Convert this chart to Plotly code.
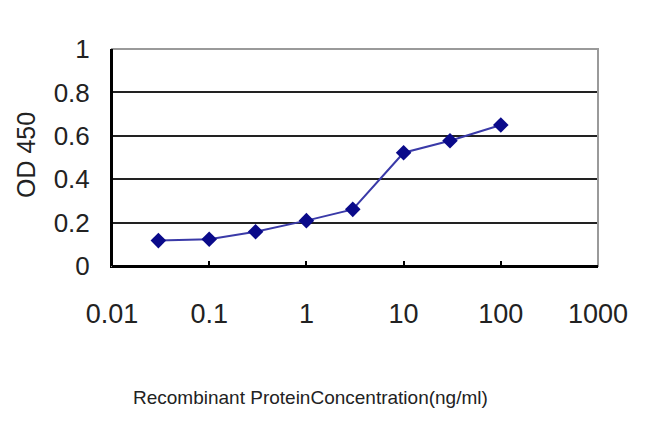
import plotly.graph_objects as go

conc = [0.03, 0.1, 0.3, 1, 3, 10, 30, 100]
od450 = [0.117, 0.123, 0.158, 0.209, 0.261, 0.522, 0.577, 0.65]
x_ticks = [0.01, 0.1, 1, 10, 100, 1000]
x_tick_labels = ["0.01", "0.1", "1", "10", "100", "1000"]
y_ticks = [0, 0.2, 0.4, 0.6, 0.8, 1]
y_tick_labels = ["0", "0.2", "0.4", "0.6", "0.8", "1"]

FONT = "Liberation Sans, Arial"
OFF = 8  # page body margin in the browser
W, H = 650 - OFF, 433 - OFF
L, R, T, B = 112 - OFF, 52, 49 - OFF, 167

fig = go.Figure()
fig.add_trace(go.Scatter(
    x=conc, y=od450, mode="lines+markers",
    line=dict(color="#3a3aa8", width=2),
    marker=dict(symbol="diamond", size=12, color="#0a0a8a"),
    showlegend=False,
))

fig.update_layout(
    width=W, height=H,
    margin=dict(l=L, r=R, t=T, b=B),
    paper_bgcolor="white", plot_bgcolor="white",
    font=dict(family=FONT, color="#222222"),
    xaxis=dict(
        type="log", range=[-2, 3],
        tickvals=x_ticks, ticktext=x_tick_labels,
        showgrid=False, zeroline=False,
        showline=True, linecolor="black", linewidth=2,
        ticks="inside", ticklen=5, tickcolor="black", tickwidth=1.5,
        tickfont=dict(size=27, family=FONT, color="#222222"),
        ticklabelstandoff=23,
    ),
    yaxis=dict(
        range=[0, 1],
        tickvals=y_ticks, ticktext=y_tick_labels,
        showgrid=True, gridcolor="#222222", gridwidth=2,
        zeroline=False,
        showline=True, linecolor="black", linewidth=2,
        ticks="",
        tickfont=dict(size=26, family=FONT, color="#222222"),
        ticklabelstandoff=15,
    ),
    shapes=[dict(
        type="rect", xref="paper", yref="paper", x0=0, x1=1, y0=0, y1=1,
        line=dict(color="#9a9a9a", width=2), layer="above",
    ), dict(
        type="line", xref="paper", yref="paper", x0=0, x1=0, y0=0, y1=1,
        line=dict(color="black", width=2), layer="above",
    ), dict(
        type="line", xref="paper", yref="paper", x0=0, x1=1, y0=0, y1=0,
        line=dict(color="black", width=2), layer="above",
    )],
    annotations=[
        dict(text="OD 450", x=26, y=155, xref="paper", yref="paper",
             xanchor="center", yanchor="middle",
             showarrow=False, textangle=-90, font=dict(size=25, family=FONT, color="#222222")),
        dict(text="Recombinant ProteinConcentration(ng/ml)", x=310, y=397,
             xref="paper", yref="paper", showarrow=False,
             xanchor="center", yanchor="middle",
             font=dict(size=19, family=FONT, color="#222222")),
    ],
)

# convert pixel annotation positions (window coordinates) to paper coordinates
pw = W - L - R
ph = H - T - B
for a in fig.layout.annotations:
    px, py = a.x - OFF, a.y - OFF
    a.x = (px - L) / pw
    a.y = (H - B - py) / ph

fig.write_html("out.html")
